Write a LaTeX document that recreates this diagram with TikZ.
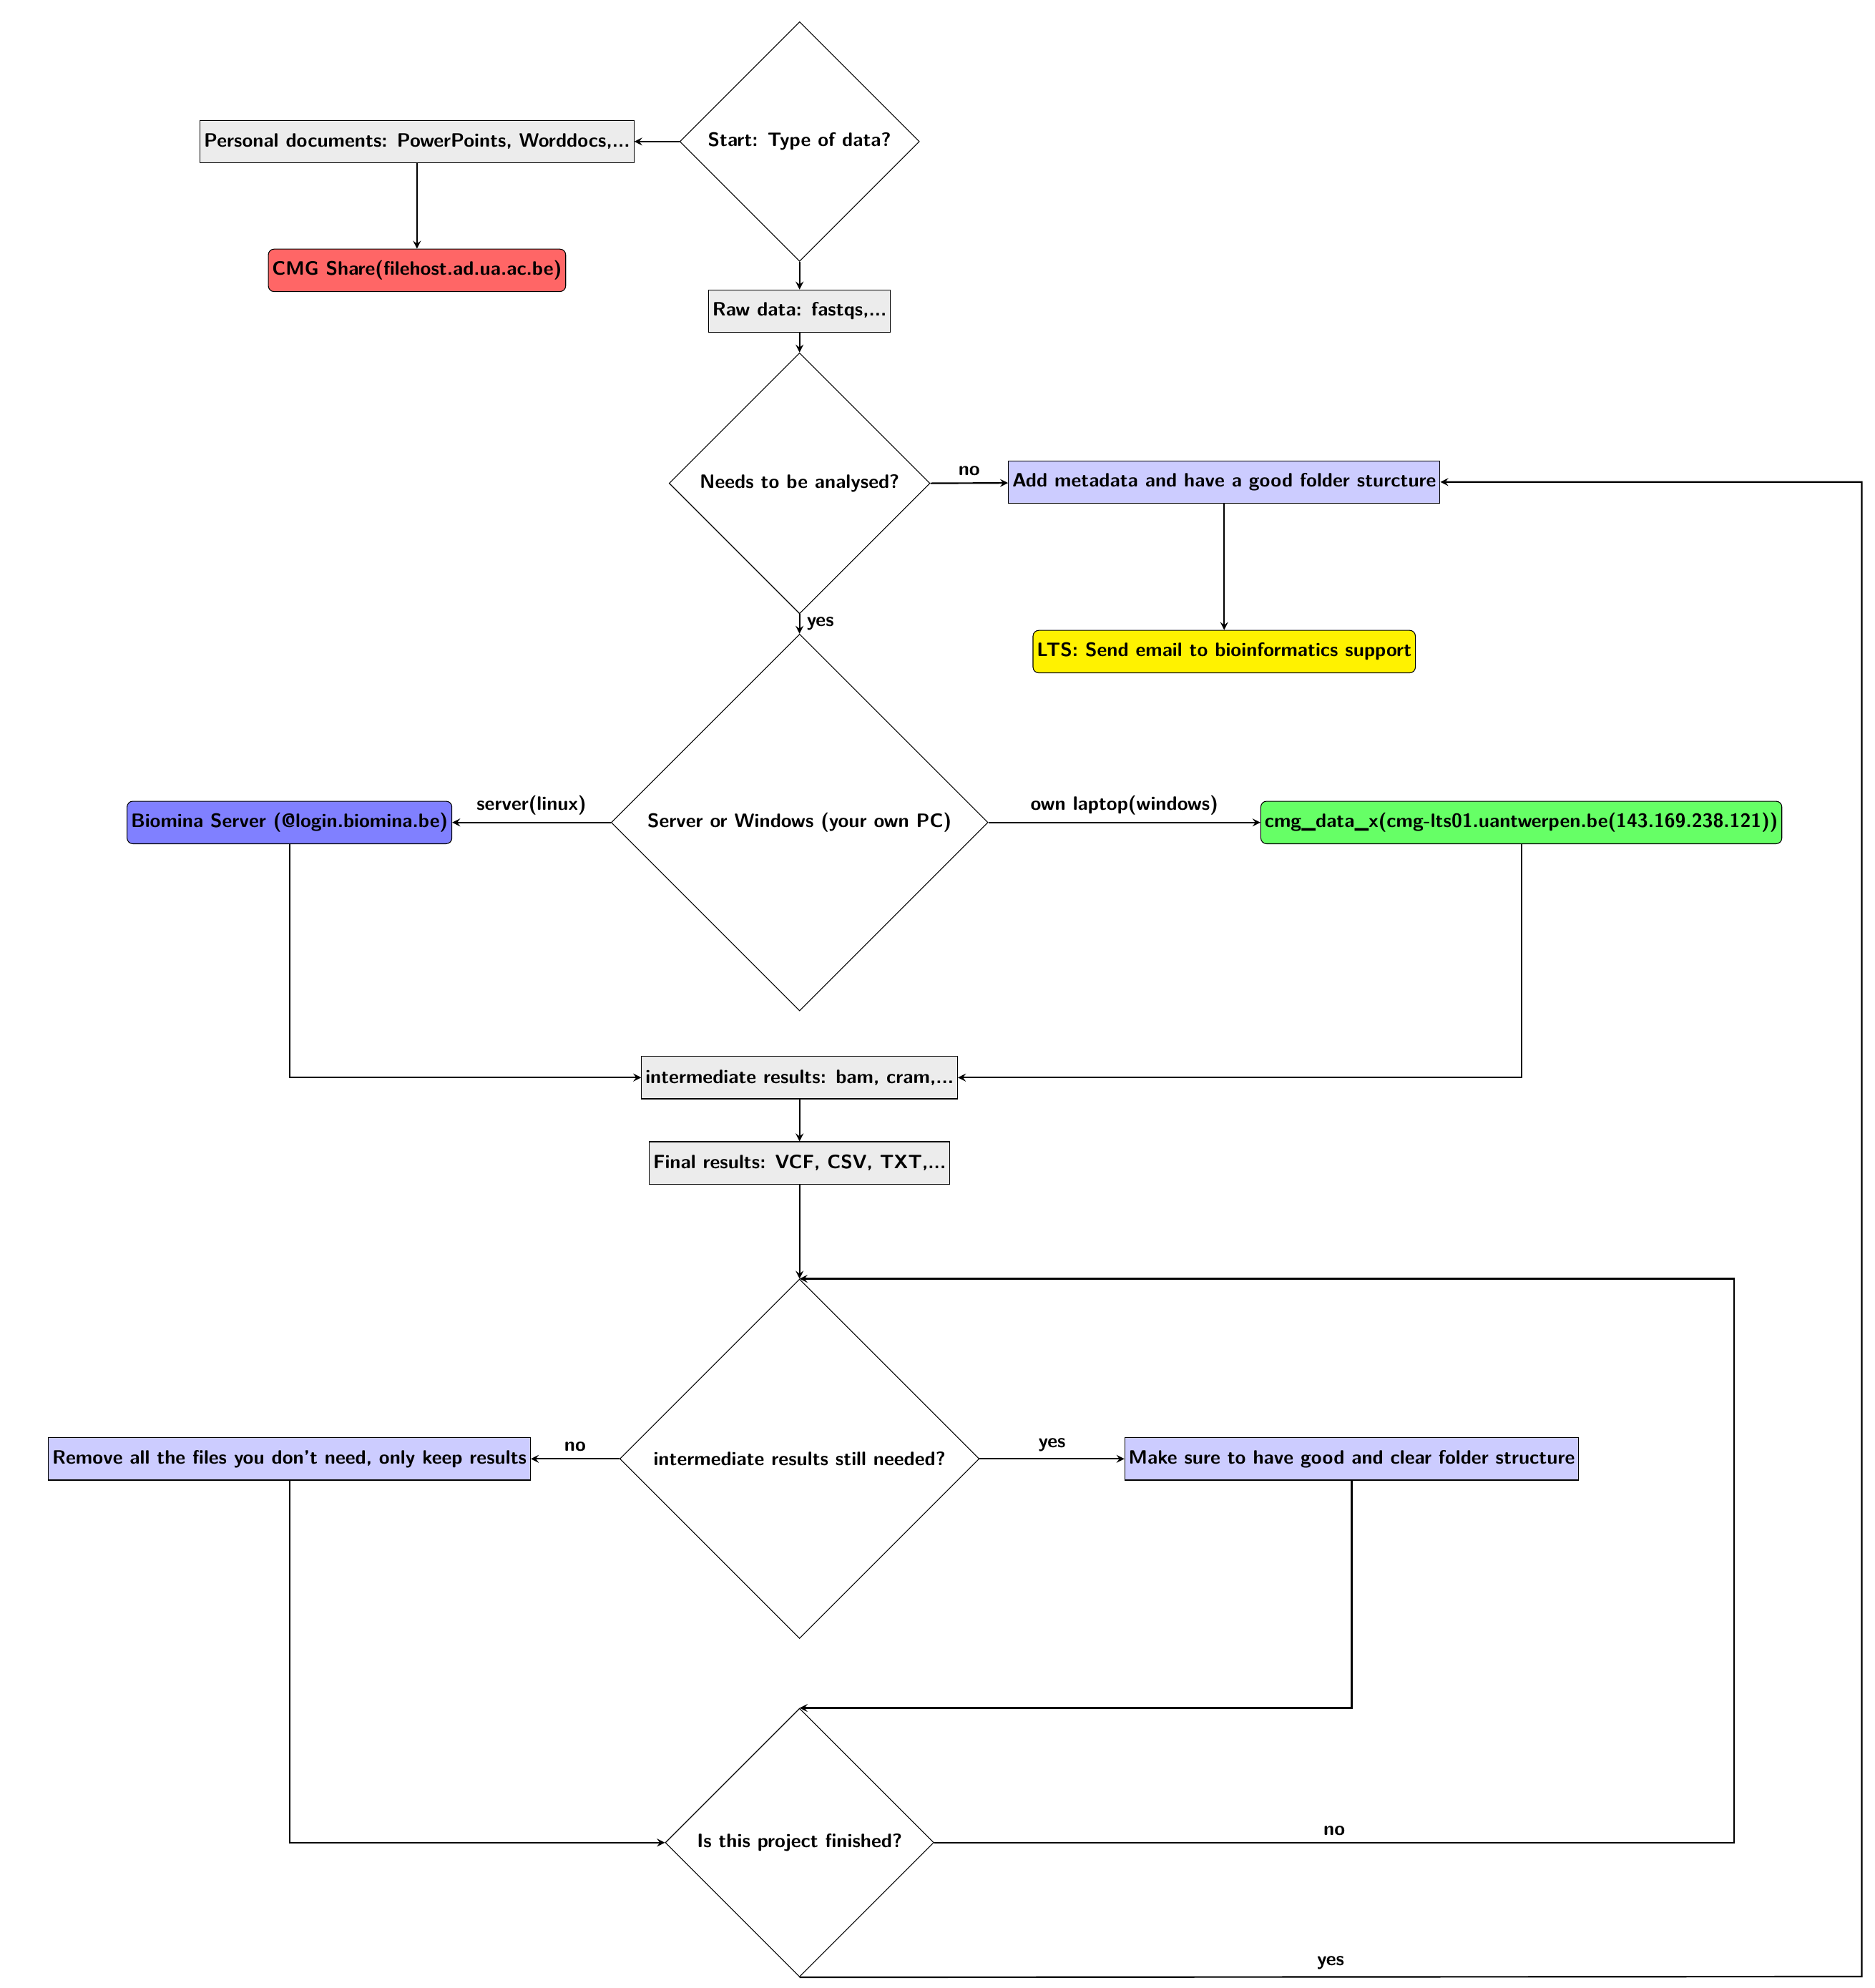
\documentclass[tikz,border=0pt]{standalone}
\usetikzlibrary{shapes.geometric,arrows}
\tikzset{
  every node/.style={font=\sffamily\bfseries},
  decision/.style={diamond, draw, line width=0.4pt, inner sep=0pt, minimum width=#1, minimum height=#1},
  datastep/.style={rectangle, draw, fill=gray!15, minimum height=22pt, inner sep=2pt},
  actstep/.style={rectangle, draw, fill=blue!20, minimum height=22pt, inner sep=2pt},
  place/.style={rectangle, rounded corners=3pt, draw, fill=#1, minimum height=22pt, inner sep=2pt},
  flow/.style={-stealth, thick}
}
\begin{document}
\begin{tikzpicture}[x=0.66pt,y=-0.66pt]
\useasboundingbox (0,0) rectangle (1470,1559);

% decisions
\node [decision=124pt] (start) at (627,111) {Start: Type of data?};
\node [decision=135pt] (analysed) at (627,379) {Needs to be analysed?};
\node [decision=195pt] (server) at (627,645) {Server or Windows (your own PC)};
\node [decision=186pt] (intres) at (627,1144) {intermediate results still needed?};
\node [decision=139pt] (finished) at (627,1445) {Is this project finished?};

% steps
\node [datastep] (personal) at (327,111) {Personal documents: PowerPoints, Worddocs,...};
\node [place=red!60] (cmg) at (327,212) {CMG Share(filehost.ad.ua.ac.be)};
\node [datastep] (raw) at (627,244) {Raw data: fastqs,...};
\node [actstep] (meta) at (960,378) {Add metadata and have a good folder sturcture};
\node [place=yellow] (lts) at (960,511) {LTS: Send email to bioinformatics support};
\node [place=blue!50] (biomina) at (227,645) {Biomina Server (@login.biomina.be)};
\node [place=green!60] (cmgdata) at (1193,645) {cmg\_data\_x(cmg-lts01.uantwerpen.be(143.169.238.121))};
\node [datastep] (inter) at (627,845) {intermediate results: bam, cram,...};
\node [datastep] (final) at (627,912) {Final results: VCF, CSV, TXT,...};
\node [actstep] (remove) at (227,1144) {Remove all the files you don't need, only keep results};
\node [actstep] (clear) at (1060,1144) {Make sure to have good and clear folder structure};

% connectors
\draw [flow] (start.west) -- (personal);
\draw [flow] (personal) -- (cmg);
\draw [flow] (start.south) -- (raw);
\draw [flow] (raw) -- (analysed.north);
\draw [flow] (analysed.east) -- node [above] {no} (meta);
\draw [flow] (meta) -- (lts);
\draw [flow] (analysed.south) -- node [right] {yes} (server.north);
\draw [flow] (server.west) -- node [above] {server(linux)} (biomina);
\draw [flow] (server.east) -- node [above] {own laptop(windows)} (cmgdata);
\draw [flow] (biomina.south) |- (inter.west);
\draw [flow] (cmgdata.south) |- (inter.east);
\draw [flow] (inter) -- (final);
\draw [flow] (final) -- (intres.north);
\draw [flow] (intres.west) -- node [above] {no} (remove);
\draw [flow] (intres.east) -- node [above] {yes} (clear);
\draw [flow] (remove.south) |- (finished.west);
\draw [flow] (clear.south) |- (finished.north);
\draw [flow] (finished.east) -- node [above] {no} (1360,1445) |- (intres.north);
\draw [flow] (finished.south) -- node [above] {yes} (1460,1550) |- (meta.east);
\end{tikzpicture}
\end{document}
